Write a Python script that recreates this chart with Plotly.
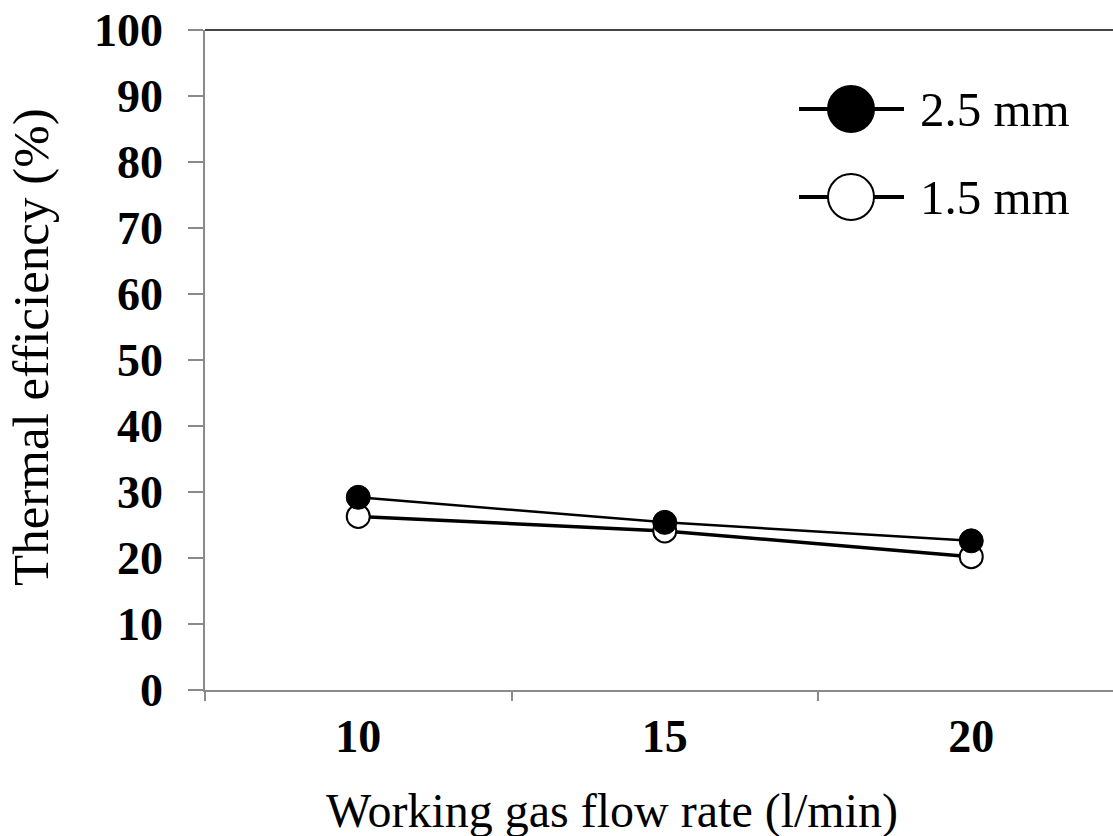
import plotly.graph_objects as go

# ---- data ----
flow_rates = ["10", "15", "20"]
eff_2_5mm = [29.2, 25.4, 22.6]
eff_1_5mm = [26.3, 24.1, 20.2]
series_names = ["2.5 mm", "1.5 mm"]
y_ticks = [0, 10, 20, 30, 40, 50, 60, 70, 80, 90, 100]

FONT = "Liberation Serif"
W, H = 1113, 836
L, R, T, B = 205, 0, 30, 146
PW, PH = W - L - R, H - T - B


def px_x(p):
    return (p - L) / PW


def px_y(p):
    return (H - B - p) / PH


fig = go.Figure()
fig.add_trace(go.Scatter(
    x=flow_rates, y=eff_1_5mm, mode="lines+markers", name=series_names[1],
    line=dict(color="black", width=3.5),
    marker=dict(symbol="circle", size=23, color="white",
                line=dict(color="black", width=2)),
    showlegend=False,
))
fig.add_trace(go.Scatter(
    x=flow_rates, y=eff_2_5mm, mode="lines+markers", name=series_names[0],
    line=dict(color="black", width=2.5),
    marker=dict(symbol="circle", size=24, color="black",
                line=dict(color="black", width=1)),
    showlegend=False,
))

shapes = [
    # top border line
    dict(type="line", xref="paper", yref="paper", x0=0, x1=1, y0=1, y1=1,
         line=dict(color="#444444", width=2), layer="above"),
]
annotations = []

# manual legend (large symbols)
legend_rows = [(109, series_names[0], "black"), (197, series_names[1], "white")]
cx = 851
for ypix, label, fill in legend_rows:
    shapes.append(dict(type="line", xref="paper", yref="paper",
                       xsizemode="pixel", ysizemode="pixel",
                       xanchor=px_x(cx), yanchor=px_y(ypix),
                       x0=-52, x1=53, y0=0, y1=0,
                       line=dict(color="black", width=4), layer="above"))
    shapes.append(dict(type="circle", xref="paper", yref="paper",
                       xsizemode="pixel", ysizemode="pixel",
                       xanchor=px_x(cx), yanchor=px_y(ypix),
                       x0=-23, x1=23, y0=-23, y1=23,
                       fillcolor=fill, line=dict(color="black", width=2),
                       layer="above"))
    annotations.append(dict(xref="paper", yref="paper", x=px_x(918), y=px_y(ypix),
                            text=label, showarrow=False, xanchor="left",
                            yanchor="middle",
                            font=dict(family=FONT, size=49, color="black")))

# axis titles
annotations.append(dict(xref="paper", yref="paper", x=px_x(612), y=px_y(811),
                        text="Working gas flow rate (l/min)", showarrow=False,
                        xanchor="center", yanchor="middle",
                        font=dict(family=FONT, size=48, color="black")))
annotations.append(dict(xref="paper", yref="paper", x=px_x(31), y=px_y(347),
                        text="Thermal efficiency (%)", showarrow=False,
                        textangle=-90, xanchor="center", yanchor="middle",
                        font=dict(family=FONT, size=51, color="black")))

fig.update_layout(
    width=W, height=H,
    margin=dict(l=L, r=R, t=T, b=B, autoexpand=False),
    paper_bgcolor="white", plot_bgcolor="white",
    shapes=shapes, annotations=annotations,
    showlegend=False,
)
fig.update_xaxes(
    type="category", range=[-0.5, 2.5 - 11.5 / 306.5],
    tickson="boundaries", ticks="outside", ticklen=9, tickwidth=1.5,
    tickcolor="#8a8a8a", showline=True, linecolor="#8a8a8a", linewidth=1.5,
    showgrid=False, zeroline=False, ticklabelstandoff=5,
    tickfont=dict(family=FONT, size=46, color="black", weight="bold"),
)
fig.update_yaxes(
    range=[0, 100], tickvals=y_ticks, ticks="outside", ticklen=15,
    tickwidth=1.5, tickcolor="#8a8a8a", showline=True, linecolor="#8a8a8a",
    linewidth=1.5, showgrid=False, zeroline=False, ticklabelstandoff=16,
    tickfont=dict(family=FONT, size=46, color="black", weight="bold"),
)

fig.write_html(
    "out.html",
    config={"displayModeBar": False},
    post_script="document.body.style.margin='0';document.body.style.overflow='hidden';",
)
